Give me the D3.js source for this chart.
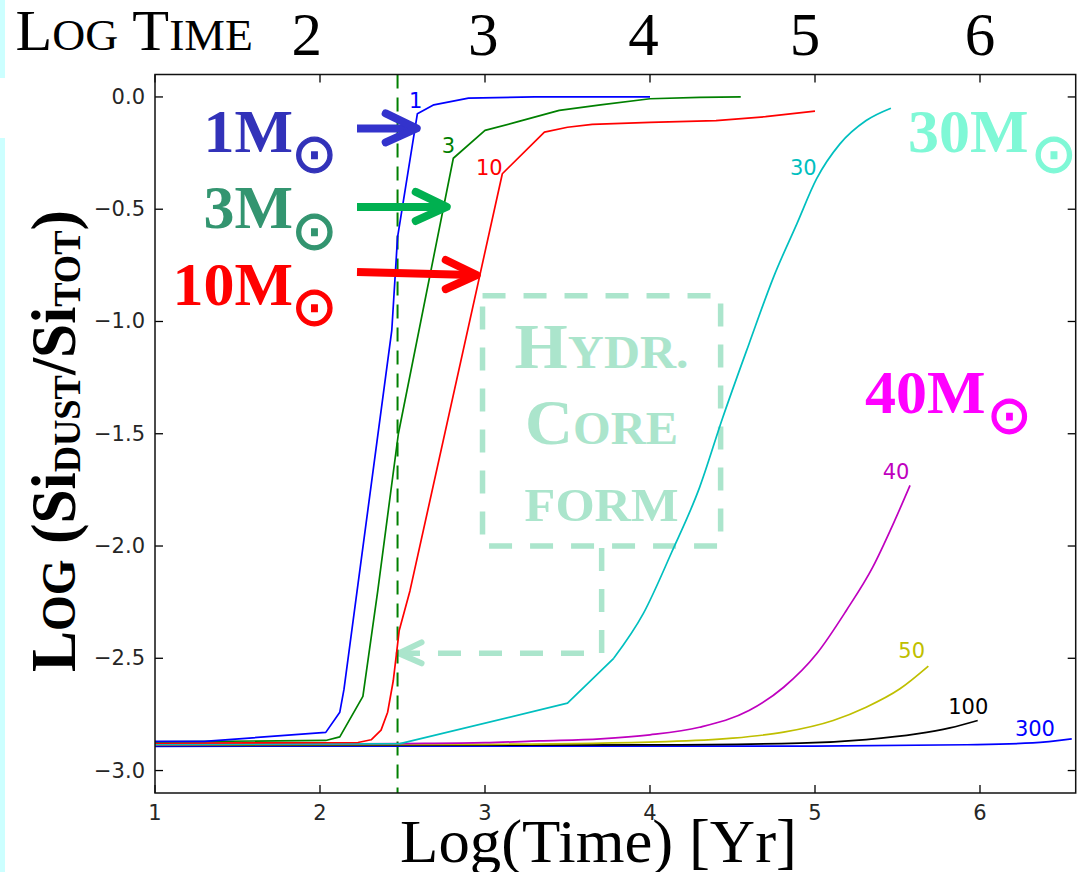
<!DOCTYPE html>
<html><head><meta charset="utf-8">
<script src="https://cdn.jsdelivr.net/npm/d3@7"></script>
<style>html,body{margin:0;padding:0;background:#fff;} svg{display:block;}</style>
</head><body>
<svg id="chart" width="1084" height="872"></svg>
<script>
// ---------------- data ----------------
const xTicks = [1, 2, 3, 4, 5, 6];
const yTicks = [0, -0.5, -1, -1.5, -2, -2.5, -3];
const topTickLabels = ["2", "3", "4", "5", "6"];
const topTickAt = [1.92, 2.99, 3.96, 4.94, 6.0];

const masses = ["1", "3", "10", "30", "40", "50", "100", "300"];
const colors = ["#0000ff", "#008000", "#ff0000", "#00bfbf", "#bf00bf", "#bfbf00", "#000000", "#0000ff"];

const m1X = [1.0, 1.3, 2.035, 2.12, 2.145, 2.435, 2.47, 2.59, 2.69, 2.9, 3.3, 4.0];
const m1Y = [-2.87, -2.87, -2.83, -2.74, -2.64, -1.04, -0.625, -0.075, -0.035, -0.005, 0, 0];
const m3X = [1.0, 2.035, 2.12, 2.26, 2.35, 2.475, 2.808, 3.0, 3.2, 3.45, 3.7, 4.0, 4.3, 4.55];
const m3Y = [-2.872, -2.866, -2.85, -2.67, -2.2, -1.5, -0.273, -0.149, -0.11, -0.06, -0.035, -0.008, -0.002, 0];
const m10X = [1.0, 2.23, 2.31, 2.37, 2.41, 2.444, 2.465, 2.48, 2.545, 3.105, 3.36, 3.5, 3.65, 4.0, 4.4, 4.7, 5.0];
const m10Y = [-2.878, -2.875, -2.863, -2.82, -2.74, -2.6, -2.47, -2.376, -2.2, -0.342, -0.157, -0.135, -0.122, -0.113, -0.105, -0.088, -0.063];
const m30X = [1.0, 2.485, 3.5, 3.78, 3.96, 4.13, 4.3, 4.44, 4.6, 4.75, 4.89, 5.01, 5.15, 5.31, 5.46];
const m30Y = [-2.884, -2.88, -2.70, -2.50, -2.30, -2.03, -1.74, -1.43, -1.10, -0.80, -0.565, -0.364, -0.21, -0.105, -0.05];
const m40X = [1.0, 2.5, 3.0, 3.33, 3.7, 4.0, 4.3, 4.6, 4.81, 5.01, 5.19, 5.35, 5.475, 5.576];
const m40Y = [-2.885, -2.88, -2.876, -2.868, -2.859, -2.841, -2.807, -2.733, -2.629, -2.48, -2.287, -2.094, -1.90, -1.73];
const m50X = [1.0, 3.0, 4.1, 4.5, 4.81, 5.11, 5.31, 5.515, 5.687];
const m50Y = [-2.886, -2.883, -2.871, -2.856, -2.829, -2.777, -2.718, -2.636, -2.535];
const m100X = [1.0, 4.0, 4.91, 5.31, 5.616, 5.818, 5.986];
const m100Y = [-2.888, -2.886, -2.878, -2.862, -2.837, -2.81, -2.777];
const m300X = [1.0, 5.0, 5.92, 6.32, 6.556];
const m300Y = [-2.892, -2.891, -2.885, -2.877, -2.859];

const labelX = [2.58, 2.778, 3.026, 4.929, 5.491, 5.586, 5.929, 6.333];
const labelY = [-0.016, -0.22, -0.315, -0.315, -1.671, -2.466, -2.718, -2.814];

const dustOnsetLogT = 2.47;

// arrows: tip in data coords
const arrowTipX = [2.586, 2.768, 2.95];
const arrowTipY = [-0.14, -0.49, -0.793];
const arrowColors = ["#3333cc", "#00b050", "#ff0000"];

// hydr. core formation box (data coords)
const boxX = [2.985, 4.428];
const boxY = [-0.885, -2.0];
const connectorX = 3.707;
const connectorY = -2.478;
const hydrLines = [["H", "YDR."], ["C", "ORE"], ["", "FORM"]];

// ---------------- layout ----------------
const svg = d3.select("#chart");
const W = 1084, H = 872;
const x = d3.scaleLinear().domain([1, 6.58]).range([155, 1075.7]);
const y = d3.scaleLinear().domain([0.1, -3.1]).range([74.5, 793]);
const ctx = document.createElement("canvas").getContext("2d");
const SERIF = "Liberation Serif", SANS = "DejaVu Sans";

svg.append("rect").attr("width", W).attr("height", H).attr("fill", "#fff");
// left cyan strip
svg.append("rect").attr("x", 0).attr("y", 0).attr("width", 5).attr("height", 78).attr("fill", "#ccffff");
svg.append("rect").attr("x", 0).attr("y", 138).attr("width", 5).attr("height", H - 138).attr("fill", "#ccffff");

// ---------- box annotation (under curves) ----------
const mint = "#abe5cc";
const bx0 = x(boxX[0]), bx1 = x(boxX[1]), by0 = y(boxY[0]), by1 = y(boxY[1]);
svg.append("rect").attr("x", bx0).attr("y", by0).attr("width", bx1 - bx0).attr("height", by1 - by0)
  .attr("fill", "none").attr("stroke", mint).attr("stroke-width", 5.5).attr("stroke-dasharray", "23,18");
const cx0 = x(connectorX), tipX = x(dustOnsetLogT) + 1, cyy = y(connectorY);
svg.append("path").attr("d", `M${cx0},${by1 + 2}V${cyy}H${tipX + 2}`)
  .attr("fill", "none").attr("stroke", mint).attr("stroke-width", 5.5).attr("stroke-dasharray", "23,18");
svg.append("path").attr("d", `M${tipX + 23},${cyy - 11}L${tipX},${cyy}L${tipX + 23},${cyy + 10}`)
  .attr("fill", "none").attr("stroke", mint).attr("stroke-width", 6)
  .attr("stroke-linecap", "round").attr("stroke-linejoin", "round");

function fitText(sel, target) {
  const len = sel.node().getComputedTextLength();
  return target / len;
}
const hydrBase = [368, 444.3, 520.7];
const hydrWidth = [174, 153, 154];
const bcx = (bx0 + bx1) / 2;
hydrLines.forEach((ln, i) => {
  const t = svg.append("text").attr("font-family", SERIF).attr("font-weight", "bold")
    .attr("fill", mint).attr("text-anchor", "middle").attr("x", 0).attr("y", 0);
  if (ln[0]) t.append("tspan").attr("font-size", 63).text(ln[0]);
  t.append("tspan").attr("font-size", 46).text(ln[1]);
  const s = fitText(t, hydrWidth[i]);
  t.attr("transform", `translate(${bcx},${hydrBase[i]}) scale(${s},1)`);
});

// ---------- dashed onset line ----------
svg.append("line").attr("x1", x(dustOnsetLogT)).attr("x2", x(dustOnsetLogT))
  .attr("y1", y(0.1)).attr("y2", y(-3.1))
  .attr("stroke", "#008000").attr("stroke-width", 2).attr("stroke-dasharray", "14,9");

// ---------- curves ----------
const seriesX = [m1X, m3X, m10X, m30X, m40X, m50X, m100X, m300X];
const seriesY = [m1Y, m3Y, m10Y, m30Y, m40Y, m50Y, m100Y, m300Y];
// index from which the curve is drawn smooth (polyline before it)
const smoothFrom = [99, 99, 99, 3, 0, 0, 0, 0];
const order = [7, 6, 5, 4, 3, 2, 1, 0];
order.forEach(i => {
  const pts = seriesX[i].map((v, k) => [v, seriesY[i][k]]);
  const lin = d3.line().x(d => x(d[0])).y(d => y(d[1])).curve(d3.curveLinear);
  const smo = d3.line().x(d => x(d[0])).y(d => y(d[1])).curve(d3.curveMonotoneX);
  const k = smoothFrom[i];
  let d;
  if (k >= pts.length) d = lin(pts);
  else if (k === 0) d = smo(pts);
  else d = lin(pts.slice(0, k + 1)) + smo(pts.slice(k));
  svg.append("path").attr("d", d).attr("fill", "none")
    .attr("stroke", colors[i]).attr("stroke-width", 1.7).attr("stroke-linejoin", "round");
});
masses.forEach((m, i) => {
  svg.append("text").attr("x", x(labelX[i])).attr("y", y(labelY[i]))
    .attr("text-anchor", "middle").attr("dominant-baseline", "central")
    .attr("font-family", SANS).attr("font-size", 21).attr("fill", colors[i]).text(m);
});

// ---------- axes / frame ----------
const fx0 = x(1), fx1 = x(6.58), fy0 = y(0.1), fy1 = y(-3.1);
const tickLen = 8;
const axG = svg.append("g");
xTicks.forEach(t => {
  axG.append("line").attr("x1", x(t)).attr("x2", x(t)).attr("y1", fy1).attr("y2", fy1 - tickLen).attr("stroke", "#000").attr("stroke-width", 1.3);
  axG.append("line").attr("x1", x(t)).attr("x2", x(t)).attr("y1", fy0).attr("y2", fy0 + tickLen).attr("stroke", "#000").attr("stroke-width", 1.3);
  axG.append("text").attr("x", x(t)).attr("y", fy1 + 27).attr("text-anchor", "middle")
    .attr("font-family", SANS).attr("font-size", 21).attr("fill", "#262626").text(d3.format("d")(t));
});
yTicks.forEach(t => {
  axG.append("line").attr("x1", fx0).attr("x2", fx0 + tickLen).attr("y1", y(t)).attr("y2", y(t)).attr("stroke", "#000").attr("stroke-width", 1.3);
  axG.append("line").attr("x1", fx1).attr("x2", fx1 - tickLen).attr("y1", y(t)).attr("y2", y(t)).attr("stroke", "#000").attr("stroke-width", 1.3);
  axG.append("text").attr("x", fx0 - 10).attr("y", y(t)).attr("text-anchor", "end").attr("dominant-baseline", "central")
    .attr("font-family", SANS).attr("font-size", 21).attr("fill", "#262626").text(d3.format(".1f")(t));
});
axG.append("rect").attr("x", fx0).attr("y", fy0).attr("width", fx1 - fx0).attr("height", fy1 - fy0)
  .attr("fill", "none").attr("stroke", "#111").attr("stroke-width", 1.5);

// ---------- arrows ----------
arrowTipX.forEach((ax, i) => {
  const tx = x(ax), ty = y(arrowTipY[i]);
  const sx = 357, sy = ty - (i === 2 ? 3 : 0);
  svg.append("path").attr("d", `M${sx},${sy}L${tx - 4},${ty}`).attr("stroke", arrowColors[i])
    .attr("stroke-width", 8).attr("fill", "none");
  svg.append("path").attr("d", `M${tx - 31},${ty - 15}L${tx},${ty}L${tx - 31},${ty + 14}`)
    .attr("stroke", arrowColors[i]).attr("stroke-width", 8).attr("fill", "none")
    .attr("stroke-linecap", "round").attr("stroke-linejoin", "round");
});

// ---------- solar-mass labels ----------
ctx.font = `100px "${SANS}"`;
const sm = ctx.measureText("⊙");
function addMassLabel(str, color, startX, endX, baseY, sunCx, sunCy, sunD) {
  ctx.font = `bold 62px "${SERIF}"`;
  const w = ctx.measureText(str).width;
  const sx = startX != null ? startX : endX - w;
  const t = svg.append("text").attr("font-family", SERIF).attr("font-weight", "bold").attr("fill", color);
  t.append("tspan").attr("x", sx).attr("y", baseY).attr("font-size", 62).text(str);
  const inkW = sm.actualBoundingBoxLeft + sm.actualBoundingBoxRight;
  const fs = 100 * (sunD - 1.3) / inkW, sc = fs / 100;
  const offX = (sm.actualBoundingBoxRight - sm.actualBoundingBoxLeft) / 2 * sc;
  const offY = (sm.actualBoundingBoxAscent - sm.actualBoundingBoxDescent) / 2 * sc;
  t.append("tspan").attr("x", sunCx - offX).attr("y", sunCy + offY)
    .attr("font-family", SANS).attr("font-weight", "normal").attr("font-size", fs)
    .attr("stroke", color).attr("stroke-width", 1.3).text("⊙");
}
addMassLabel("1M", "#3232b9", null, 293, 151.7, 314.5, 155, 37);
addMassLabel("3M", "#339570", null, 293, 228, 314.5, 231.7, 37);
addMassLabel("10M", "#ff0000", null, 293, 305, 314.5, 308, 37);
addMassLabel("30M", "#7ff8d6", 908, null, 151.7, 1054, 155, 37);
addMassLabel("40M", "#ff00ff", 865, null, 413.3, 1009.3, 416.7, 36);

// ---------- top "Log Time" scale ----------
const lt = svg.append("text").attr("font-family", SERIF).attr("fill", "#000").attr("x", 0).attr("y", 0);
lt.append("tspan").attr("font-size", 58).text("L");
lt.append("tspan").attr("font-size", 44).text("OG");
lt.append("tspan").attr("font-size", 58).text(" T");
lt.append("tspan").attr("font-size", 44).text("IME");
lt.attr("transform", `translate(15.5,50) scale(${fitText(lt, 237.5)},1)`);
topTickLabels.forEach((s, i) => {
  svg.append("text").attr("x", x(topTickAt[i])).attr("y", 55).attr("text-anchor", "middle")
    .attr("font-family", SERIF).attr("font-size", 61).attr("fill", "#000").text(s);
});

// ---------- axis titles ----------
const xt = svg.append("text").attr("font-family", SERIF).attr("font-size", 62).attr("fill", "#000")
  .attr("text-anchor", "middle").attr("x", 0).attr("y", 0).text("Log(Time) [Yr]");
xt.attr("transform", `translate(598.5,862) scale(${fitText(xt, 397)},1)`);

const yl = svg.append("text").attr("font-family", SERIF).attr("font-weight", "bold").attr("fill", "#000")
  .attr("text-anchor", "middle").attr("x", 0).attr("y", 0);
yl.append("tspan").attr("font-size", 64).text("L");
yl.append("tspan").attr("font-size", 48).text("OG");
yl.append("tspan").attr("font-size", 64).text(" (Si");
yl.append("tspan").attr("font-size", 38).attr("dy", 5).text("DUST");
yl.append("tspan").attr("font-size", 64).attr("dy", -5).text("/Si");
yl.append("tspan").attr("font-size", 38).attr("dy", 5).text("TOT");
yl.append("tspan").attr("font-size", 64).attr("dy", -5).text(")");
yl.attr("transform", `translate(75,441) rotate(-90) scale(${fitText(yl, 462)},1)`);
</script>
</body></html>
